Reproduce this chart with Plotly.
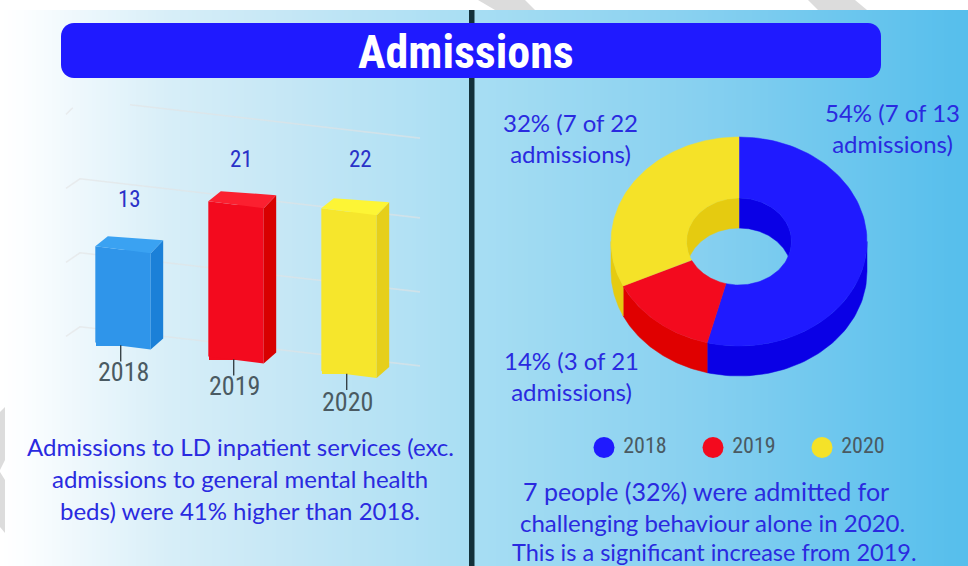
import math
import plotly.graph_objects as go

W, H = 968, 566

# ---------- data ----------
years = ["2018", "2019", "2020"]
admissions = [13, 21, 22]
bar_base = [0.0, -1.9, -3.85]          # perspective drop of each bar's foot
grid_levels = [0, 10, 20, 30]
shares = [54, 14, 32]
share_labels = ["54% (7 of 13<br>admissions)", "14% (3 of 21<br>admissions)", "32% (7 of 22<br>admissions)"]

front = ["#2f95ea", "#f30a1e", "#f6e62c"]
side = ["#1b80d8", "#d80000", "#e6cf1a"]
top = ["#3aa2f2", "#fb2030", "#fdf535"]
ring_top = ["#1f1aff", "#f30a1e", "#f5e228"]
ring_side = ["#0a00e6", "#e00000", "#e5cb10"]
legend_cols = ["#1f1aff", "#f30a1e", "#f5e228"]

TXT = "#2a2ae0"
GREY = "#4a5a62"
NARROW = "Roboto Condensed, DejaVu Sans Condensed, Roboto, sans-serif"
BODY = "Lato"


def px(x):
    return x / W


def py(y):
    return 1 - y / H


# ---------- axes geometry ----------
# bar axes: 113 px per category, 7.4 px per admission, y=0 at pixel 346
BX0, BPX, BY0, BPY = 123, 113.0, 346, 7.4
B_L, B_R, B_T, B_B = 50, 440, 90, 420
# donut axes: unit circle squashed by tilt
DCX, DCY, DRX, DRY = 739, 241.5, 128.0, 104.5
D_L, D_R, D_T, D_B = 560, 960, 120, 470
HOLE_X, HOLE_Y = 52.5 / 128, 43.5 / 104.5
DEPTH = 30 / 104.5

fig = go.Figure()

# ---------- gradient background ----------
stops = [(0, (255, 255, 255)), (20, (252, 254, 255)), (170, (215, 238, 248)),
         (300, (195, 230, 245)), (470, (168, 222, 243)), (700, (135, 208, 240)), (968, (85, 190, 236))]


def grad(x):
    for (a, ca), (b, cb) in zip(stops, stops[1:]):
        if x <= b:
            f = (x - a) / (b - a)
            return "rgb(%d,%d,%d)" % tuple(round(p + (q - p) * f) for p, q in zip(ca, cb))
    return "rgb(85,190,236)"


shapes = []
for sx in range(0, W, 4):
    shapes.append(dict(type="rect", xref="paper", yref="paper", layer="below",
                       x0=px(sx), x1=px(sx + 4.5), y0=0, y1=py(10), line_width=0,
                       fillcolor=grad(sx + 2)))


def poly(points, color, layer="below"):
    d = "M" + " L".join("%.5f,%.5f" % (px(a), py(b)) for a, b in points) + " Z"
    shapes.append(dict(type="path", xref="paper", yref="paper", path=d, fillcolor=color,
                       line_width=0, layer=layer))


# watermark slivers
for pts in [[(478, 0), (525, 0), (535, 10), (495, 10)],
            [(808, 0), (855, 0), (867, 10), (818, 10)],
            [(0, 412), (5, 407), (5, 460), (0, 470)],
            [(0, 472), (5, 480), (5, 533), (0, 527)]]:
    poly(pts, "#dcdcdc")

# divider
shapes.append(dict(type="rect", xref="paper", yref="paper", x0=px(469), x1=px(474.5), y0=0, y1=py(10),
                   fillcolor="#13313a", line_width=0, layer="below"))

# title pill
L, R, T, B, r = 61, 881, 23, 78, 13
k = r * 0.45
pill = (f"M{px(L + r)},{py(T)} L{px(R - r)},{py(T)} C{px(R - k)},{py(T)} {px(R)},{py(T + k)} {px(R)},{py(T + r)} "
        f"L{px(R)},{py(B - r)} C{px(R)},{py(B - k)} {px(R - k)},{py(B)} {px(R - r)},{py(B)} "
        f"L{px(L + r)},{py(B)} C{px(L + k)},{py(B)} {px(L)},{py(B - k)} {px(L)},{py(B - r)} "
        f"L{px(L)},{py(T + r)} C{px(L)},{py(T + k)} {px(L + k)},{py(T)} {px(L + r)},{py(T)} Z")
shapes.append(dict(type="path", xref="paper", yref="paper", path=pill, fillcolor="#1f1aff",
                   line_width=0, layer="above"))

# ---------- faint receding grid on the bar axes ----------
SLOPE = -0.115 * BPX / BPY          # data-units of y per category
X_A = (80 - BX0) / BPX
X_B = (420 - BX0) / BPX
X_STUB = (66 - BX0) / BPX
X_GAP = (130 - BX0) / BPX
for lv in grid_levels:
    y_a = lv + 2.6
    if lv == grid_levels[-1]:
        # the top line is broken in the picture
        xs = [X_STUB, X_STUB + 0.06, None, X_GAP, X_B]
        ys = [y_a - 1.3, y_a - 0.4, None, y_a, y_a + SLOPE * (X_B - X_GAP)]
    else:
        xs = [X_STUB, X_A, X_B]
        ys = [y_a - 1.3, y_a, y_a + SLOPE * (X_B - X_A)]
    fig.add_trace(go.Scatter(x=xs, y=ys, mode="lines", line=dict(color="rgba(226,226,226,0.6)", width=1.6),
                             hoverinfo="skip", showlegend=False, xaxis="x", yaxis="y"))

# ---------- bars ----------
HALF = 0.245
DX = 12.5 / BPX
DY_L = 10 / BPY
DY_TR = 13 / BPY
DY_BR = 11 / BPY
SK = 3.5 / BPY

fig.add_trace(go.Bar(x=list(range(3)), y=admissions, base=bar_base, width=2 * HALF - 0.01,
                     marker=dict(color=front, line_width=0), showlegend=False, xaxis="x", yaxis="y",
                     name="Admissions", text=years, hoverinfo="y+text", textposition="none"))

for i, (v, b0) in enumerate(zip(admissions, bar_base)):
    tp = b0 + v
    # front parallelogram over the bar (perspective skew)
    fig.add_trace(go.Scatter(x=[i - HALF, i + HALF, i + HALF, i - HALF, i - HALF],
                             y=[tp + SK, tp - SK, b0 - SK, b0 + SK, tp + SK],
                             fill="toself", fillcolor=front[i], mode="none", showlegend=False,
                             hoverinfo="skip", xaxis="x", yaxis="y"))
    # right side
    fig.add_trace(go.Scatter(x=[i + HALF, i + HALF + DX, i + HALF + DX, i + HALF, i + HALF],
                             y=[tp - SK, tp - SK + DY_TR, b0 - SK + DY_BR, b0 - SK, tp - SK],
                             fill="toself", fillcolor=side[i], mode="none", showlegend=False,
                             hoverinfo="skip", xaxis="x", yaxis="y"))
    # top
    fig.add_trace(go.Scatter(x=[i - HALF, i - HALF + DX, i + HALF + DX, i + HALF, i - HALF],
                             y=[tp + SK, tp + SK + DY_L, tp - SK + DY_TR, tp - SK, tp + SK],
                             fill="toself", fillcolor=top[i], mode="none", showlegend=False,
                             hoverinfo="skip", xaxis="x", yaxis="y"))
    # tick stem under the bar
    fig.add_trace(go.Scatter(x=[i - 0.02, i - 0.02], y=[b0 + 0.1, b0 - 2.1], mode="lines",
                             line=dict(color="#20282c", width=1.2), showlegend=False,
                             hoverinfo="skip", xaxis="x", yaxis="y"))


# ---------- donut, each sector swept from its share ----------
def ell(t_deg, rx=1.0, ry=1.0, dy=0.0):
    t = math.radians(t_deg)
    return rx * math.sin(t), ry * math.cos(t) + dy


def sweep(a, b, n=60):
    return [a + (b - a) * j / n for j in range(n + 1)]


def add_poly(pts, color):
    fig.add_trace(go.Scatter(x=[p[0] for p in pts] + [pts[0][0]], y=[p[1] for p in pts] + [pts[0][1]],
                             fill="toself", fillcolor=color, mode="lines",
                             line=dict(color=color, width=0.5), showlegend=False,
                             hoverinfo="skip", xaxis="x2", yaxis="y2"))


bounds = [0]
for s in shares:
    bounds.append(bounds[-1] + s * 3.6)

# outer wall (front half only)
for i in range(3):
    a, b = max(bounds[i], 90), min(bounds[i + 1], 270)
    if a < b:
        ts = sweep(a, b)
        add_poly([ell(t) for t in ts] + [ell(t, dy=-DEPTH) for t in reversed(ts)], ring_side[i])

# inner wall (back half of the hole)
c0 = DEPTH / 2 / HOLE_Y
t_e = math.degrees(math.acos(-c0))
t_s = math.degrees(math.acos(c0))
ts_e = sweep(0, t_e)
ts_s = sweep(0, t_s)
add_poly([ell(t, HOLE_X, HOLE_Y) for t in ts_e] + [ell(t, HOLE_X, HOLE_Y, -DEPTH) for t in reversed(ts_s)],
         ring_side[0])
add_poly([ell(-t, HOLE_X, HOLE_Y) for t in ts_e] + [ell(-t, HOLE_X, HOLE_Y, -DEPTH) for t in reversed(ts_s)],
         ring_side[2])

# top face
for i in range(3):
    ts = sweep(bounds[i], bounds[i + 1], 90)
    add_poly([ell(t) for t in ts] + [ell(t, HOLE_X, HOLE_Y) for t in reversed(ts)], ring_top[i])

# legend keys
LEG_START, LEG_STEP, LEG_Y = (604 - DCX) / DRX, 109 / DRX, (DCY - 447.5) / DRY
fig.add_trace(go.Scatter(x=[LEG_START + LEG_STEP * i for i in range(3)], y=[LEG_Y] * 3,
                         mode="markers+text", text=[" " + y for y in years], textposition="middle right",
                         textfont=dict(family=NARROW, size=22, color=GREY),
                         marker=dict(size=21, color=legend_cols, line_width=0),
                         showlegend=False, xaxis="x2", yaxis="y2", cliponaxis=False, hoverinfo="text"))

# ---------- texts ----------
ann = []


def text(x, y, s, size, color=TXT, family=BODY):
    ann.append(dict(xref="paper", yref="paper", x=px(x), y=py(y), text=s, showarrow=False,
                    xanchor="center", yanchor="middle", font=dict(family=family, size=size, color=color),
                    align="center"))


text(466, 52, "<b>Admissions</b>", 46, "white", NARROW)

for x, y, v in zip([129, 241, 360], [199, 159, 159], admissions):
    text(x, y, str(v), 23, "#2a32c8", NARROW)
for x, y, lab in zip([123, 234.5, 347], [372, 386, 402], years):
    text(x, y, lab, 26, GREY, NARROW)

for y, line in zip([447, 478, 510], ["Admissions to LD inpatient services (exc.",
                                     "admissions to general mental health",
                                     "beds) were 41% higher than 2018."]):
    text(240, y, line, 24)
for x, y, size, line in zip([705.5, 712.5, 714], [491, 522, 551.5], [25, 24, 23.5],
                            ["7 people (32%) were admitted for",
                             "challenging behaviour alone in 2020.",
                             "This is a significant increase from 2019."]):
    text(x, y, line, size)

for (x, y), s in zip([(892, 128), (571.5, 376), (570, 138)], share_labels):
    text(x, y, s, 24)


# ---------- layout ----------
def axis(domain, rng):
    return dict(domain=domain, range=rng, visible=False, fixedrange=True, showgrid=False, zeroline=False)


fig.update_layout(
    width=W, height=H, autosize=False,
    margin=dict(l=0, r=0, t=0, b=0),
    paper_bgcolor="white", plot_bgcolor="rgba(0,0,0,0)",
    showlegend=False, bargap=0,
    shapes=shapes, annotations=ann,
    xaxis=axis([px(B_L), px(B_R)], [(B_L - BX0) / BPX, (B_R - BX0) / BPX]),
    yaxis=axis([py(B_B), py(B_T)], [(BY0 - B_B) / BPY, (BY0 - B_T) / BPY]),
    xaxis2=axis([px(D_L), px(D_R)], [(D_L - DCX) / DRX, (D_R - DCX) / DRX]),
    yaxis2=axis([py(D_B), py(D_T)], [(DCY - D_B) / DRY, (DCY - D_T) / DRY]),
)

fig.write_html("out.html", config={"displayModeBar": False},
               post_script="document.body.style.margin='0';document.documentElement.style.overflow='hidden';")
